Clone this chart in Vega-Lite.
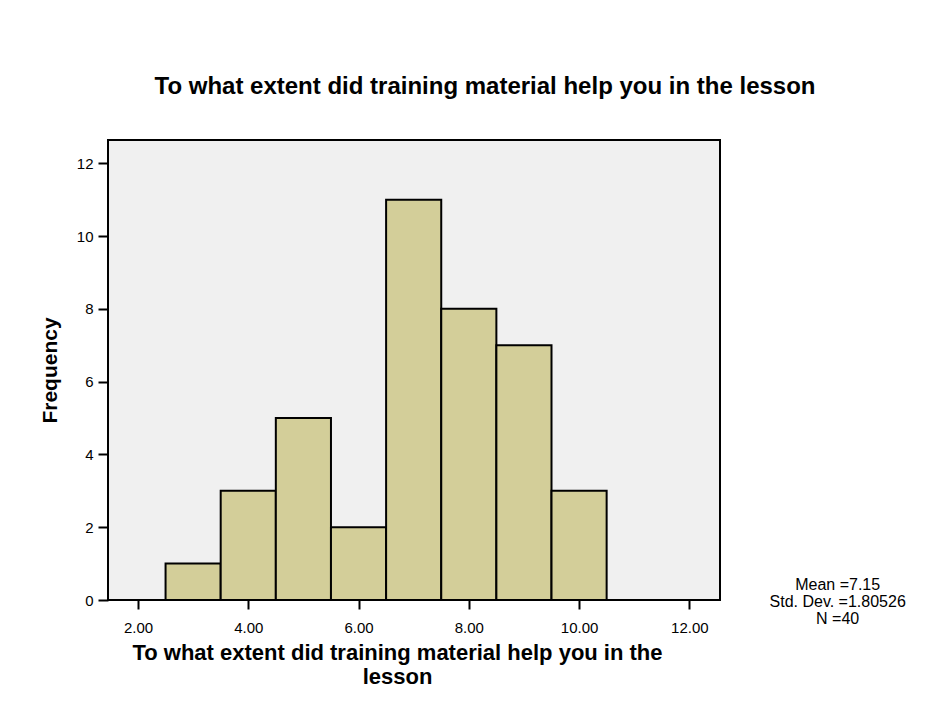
{
  "$schema": "https://vega.github.io/schema/vega-lite/v6.json",
  "width": 612,
  "height": 460,
  "autosize": {"type": "none"},
  "padding": {"left": 108, "top": 140, "right": 229, "bottom": 107},
  "background": "white",
  "config": {
    "font": "Liberation Sans",
    "view": {"fill": "#f0f0f0", "stroke": "#000000", "strokeWidth": 2}
  },
  "title": {
    "text": "To what extent did training material help you in the lesson",
    "font": "Liberation Sans",
    "fontSize": 24,
    "fontWeight": "bold",
    "color": "#000000",
    "anchor": "middle",
    "dx": 71,
    "offset": 41
  },
  "layer": [
    {
      "data": {
        "values": [
          {"bin_start": 2.5, "bin_end": 3.5, "count": 1},
          {"bin_start": 3.5, "bin_end": 4.5, "count": 3},
          {"bin_start": 4.5, "bin_end": 5.5, "count": 5},
          {"bin_start": 5.5, "bin_end": 6.5, "count": 2},
          {"bin_start": 6.5, "bin_end": 7.5, "count": 11},
          {"bin_start": 7.5, "bin_end": 8.5, "count": 8},
          {"bin_start": 8.5, "bin_end": 9.5, "count": 7},
          {"bin_start": 9.5, "bin_end": 10.5, "count": 3}
        ]
      },
      "mark": {"type": "rect", "fill": "#d3ce99", "stroke": "#000000", "strokeWidth": 2},
      "encoding": {
        "x": {
          "field": "bin_start",
          "type": "quantitative",
          "scale": {"domain": [1.456, 12.556], "nice": false, "zero": false},
          "axis": {
            "title": ["To what extent did training material help you in the", "lesson"],
            "titleFontSize": 22,
            "titleFontWeight": "bold",
            "titleColor": "#000000",
            "titleX": 289,
            "titlePadding": 7,
            "titleLineHeight": 24,
            "values": [2, 4, 6, 8, 10, 12],
            "format": ".2f",
            "domain": false,
            "grid": false,
            "ticks": true,
            "tickSize": 9,
            "tickColor": "#000000",
            "tickWidth": 2,
            "labelFontSize": 15,
            "labelColor": "#000000",
            "labelPadding": 11
          }
        },
        "x2": {"field": "bin_end"},
        "y": {
          "field": "count",
          "type": "quantitative",
          "scale": {"domain": [0, 12.64], "nice": false},
          "axis": {
            "title": "Frequency",
            "titleFontSize": 21,
            "titleFontWeight": "bold",
            "titleColor": "#000000",
            "titlePadding": 16,
            "values": [0, 2, 4, 6, 8, 10, 12],
            "format": "d",
            "domain": false,
            "grid": false,
            "tickSize": 10,
            "tickColor": "#000000",
            "tickWidth": 2,
            "labelFontSize": 15,
            "labelColor": "#000000",
            "labelPadding": 5
          }
        }
      }
    },
    {
      "data": {
        "values": [
          {"label": "Mean =7.15", "xpos": 14.69, "ypos": 0.41},
          {"label": "Std. Dev. =1.80526", "xpos": 14.69, "ypos": -0.055},
          {"label": "N =40", "xpos": 14.69, "ypos": -0.52}
        ]
      },
      "mark": {"type": "text", "fontSize": 16, "align": "center", "baseline": "middle", "clip": false, "color": "#000000"},
      "encoding": {
        "x": {"field": "xpos", "type": "quantitative"},
        "y": {"field": "ypos", "type": "quantitative"},
        "text": {"field": "label"}
      }
    }
  ]
}
